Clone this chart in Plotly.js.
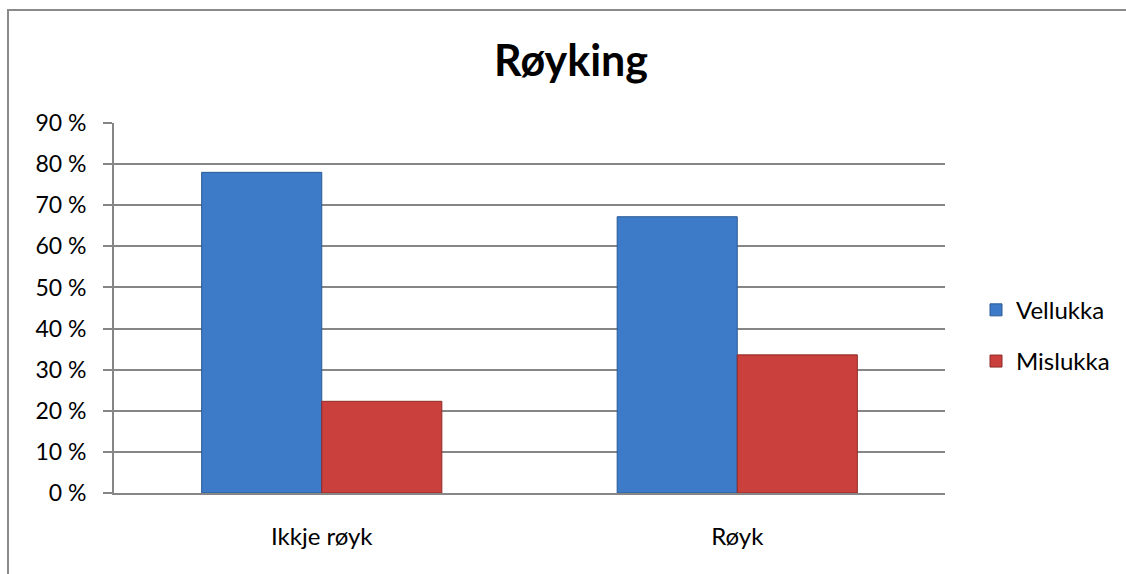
<!DOCTYPE html>
<html>
<head>
<meta charset="utf-8">
<script src="https://cdn.plot.ly/plotly-3.0.1.min.js"></script>
<style>
  html, body { margin: 0; padding: 0; background: #fff; overflow: hidden; width: 1126px; height: 574px; }
  #chart { position: absolute; left: 0; top: 0; width: 1126px; height: 574px; }
  #ftop { position: absolute; left: 7px; top: 9px; width: 1119px; height: 2px; background: #8a8a8a; pointer-events: none; }
  #fleft { position: absolute; left: 7px; top: 9px; width: 2px; height: 565px; background: #8a8a8a; pointer-events: none; }
</style>
</head>
<body>
<div id="chart"></div>
<div id="ftop"></div>
<div id="fleft"></div>
<script>
const categories = ["Ikkje røyk", "Røyk"];
const seriesNames = ["Vellukka", "Mislukka"];
const vellukka = [78.0, 67.2];
const mislukka = [22.3, 33.6];
const yTicks = [0, 10, 20, 30, 40, 50, 60, 70, 80, 90];
const chartTitle = "Røyking";

const FONT = "Lato, Carlito, 'Liberation Sans', sans-serif";
const gridCol = "#868686";

const traces = [
  {
    type: "bar", name: seriesNames[0], x: categories, y: vellukka,
    legendgroup: "a",
    marker: { color: "#3d7bc8", line: { color: "#2a5a95", width: 1 } },
    hoverinfo: "skip"
  },
  {
    type: "bar", name: seriesNames[1], x: categories, y: mislukka,
    legendgroup: "b",
    marker: { color: "#c9403c", line: { color: "#8e2b28", width: 1 } },
    hoverinfo: "skip"
  }
];

const layout = {
  width: 1126, height: 574,
  margin: { l: 114, r: 180, t: 123, b: 81, pad: 0 },
  paper_bgcolor: "rgba(0,0,0,0)",
  plot_bgcolor: "#ffffff",
  font: { family: FONT, size: 23, color: "#000000" },
  title: {
    text: "<b>" + chartTitle + "</b>",
    font: { family: FONT, size: 43, color: "#000000" },
    x: 571 / 1126, xref: "container", xanchor: "center",
    y: 1 - 61 / 574, yref: "container", yanchor: "middle"
  },
  barmode: "group",
  bargap: 0.422,
  bargroupgap: 0,
  xaxis: {
    type: "category",
    showgrid: false,
    showline: true, linecolor: gridCol, linewidth: 2,
    ticks: "", zeroline: false,
    tickfont: { family: FONT, size: 24, color: "#000" },
    ticklabelstandoff: 21
  },
  yaxis: {
    range: [0, 90],
    tickvals: yTicks,
    ticktext: yTicks.map(v => v + " %"),
    showgrid: true, gridcolor: gridCol, gridwidth: 2,
    showline: true, linecolor: gridCol, linewidth: 2,
    ticks: "outside", ticklen: 9, tickcolor: gridCol, tickwidth: 2,
    zeroline: false,
    tickfont: { family: FONT, size: 23, color: "#000" },
    ticklabelstandoff: 12
  },
  legend: {
    x: (976 - 114) / 832, xanchor: "left",
    y: 0.425, yanchor: "middle",
    traceorder: "grouped",
    tracegroupgap: 17,
    font: { family: FONT, size: 24, color: "#000" },
    bgcolor: "rgba(0,0,0,0)",
    itemwidth: 30
  },
  showlegend: true
};

Plotly.newPlot("chart", traces, layout, { staticPlot: true, displayModeBar: false });
</script>
</body>
</html>
